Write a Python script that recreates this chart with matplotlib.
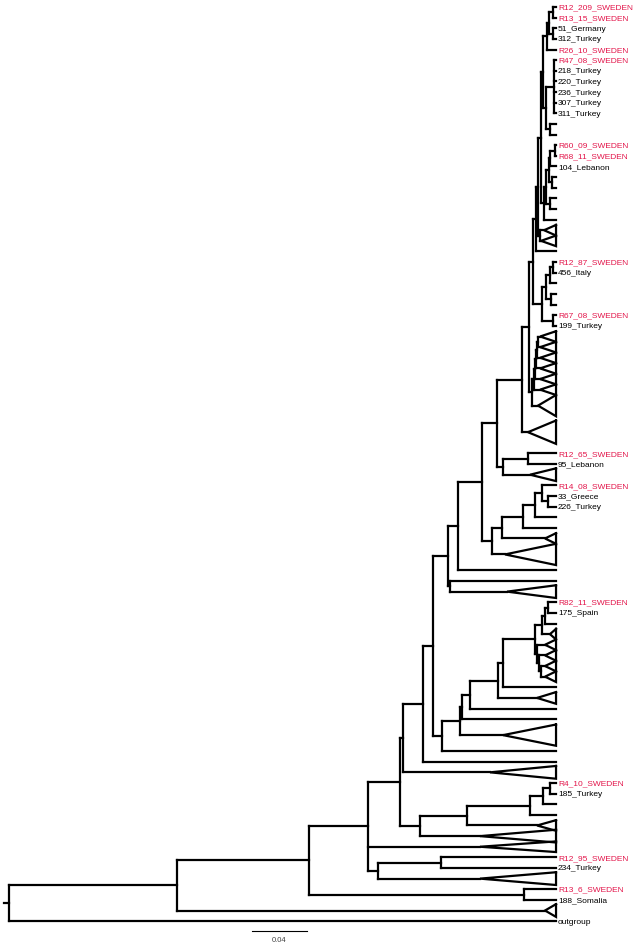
import matplotlib
matplotlib.use("Agg")
import matplotlib.pyplot as plt

plt.rcParams['font.family'] = ['Liberation Sans', 'DejaVu Sans']

# tip labels (row index -> name), rows without a name are unlabeled tips
label_rows = [0, 1, 2, 3, 4, 5, 6, 7, 8, 9, 10, 13, 14, 15, 24, 25, 29, 30,
              42, 43, 45, 46, 47, 56, 57, 73, 74, 80, 81, 83, 84, 86]
label_texts = ["R12_209_SWEDEN", "R13_15_SWEDEN", "51_Germany", "312_Turkey",
               "R26_10_SWEDEN", "R47_08_SWEDEN", "218_Turkey", "220_Turkey",
               "236_Turkey", "307_Turkey", "311_Turkey", "R60_09_SWEDEN",
               "R68_11_SWEDEN", "104_Lebanon", "R12_87_SWEDEN", "456_Italy",
               "R67_08_SWEDEN", "199_Turkey", "R12_65_SWEDEN", "95_Lebanon",
               "R14_08_SWEDEN", "33_Greece", "226_Turkey", "R82_11_SWEDEN",
               "175_Spain", "R4_10_SWEDEN", "185_Turkey", "R12_95_SWEDEN",
               "234_Turkey", "R13_6_SWEDEN", "188_Somalia", "outgroup"]

# collapsed clades: row (centre), height of the clade node, half height in rows
tri_rows = [21, 22, 31, 32, 33, 34, 35, 36, 37.5, 40, 44, 50, 51.5, 55, 59,
            60, 61, 62, 63, 65, 68.5, 72, 77, 78, 79, 82, 85]
tri_apex = [0.0087, 0.0109, 0.0116, 0.0116, 0.0116, 0.0116, 0.0116, 0.0116,
            0.0131, 0.0204, 0.0189, 0.0080, 0.0371, 0.0356, 0.0044, 0.0080,
            0.0080, 0.0080, 0.0080, 0.0138, 0.0385, 0.0480, 0.0138, 0.0553,
            0.0553, 0.0553, 0.0080]
tri_half = [0.5, 0.5, 0.5, 0.5, 0.5, 0.5, 0.5, 0.5, 1.0, 1.1, 0.6, 0.5, 1.0,
            0.6, 0.5, 0.5, 0.5, 0.5, 0.5, 0.55, 1.0, 0.6, 0.5, 0.6, 0.5, 0.6,
            0.6]

# topology: (node height, children...) ; ints/floats are tip rows
T1 = (0.0022, 0, 1)
T2 = (0.0022, 2, 3)
T3 = (0.0051, T1, T2)
T4 = (0.0065, T3, 4)
T5 = (0.0015, 5, 6, 7, 8, 9, 10)
T6 = (0.0044, 11, 12)
T7 = (0.0073, T5, T6)
T8 = (0.0095, T4, T7)
L1 = (0.0007, 13, 14)
L2 = (0.0044, L1, 15)
L3 = (0.0029, 16, 17)
L4 = (0.0051, L2, L3)
L5 = (0.0044, 18, 19)
L6 = (0.0073, L4, L5)
L7 = (0.0087, L6, 20)
L9 = (0.0109, T8, L7)
L8 = (0.0116, 21, 22)
L10 = (0.0131, L9, L8)
L11 = (0.0145, L10, 23)
M1 = (0.0022, 24, 25)
M2 = (0.0044, M1, 26)
M3 = (0.0036, 27, 28)
M4 = (0.0073, M2, M3)
M5 = (0.0022, 29, 30)
M6 = (0.0102, M4, M5)
upper = (0.0167, L11, M6)
J1 = (0.0131, 31, 32)
J2 = (0.0138, J1, 33)
J3 = (0.0145, J2, 34)
J4 = (0.0153, J3, 35)
J5 = (0.0160, J4, 36)
J6 = (0.0175, J5, 37.5)
U2 = (0.0196, upper, J6)
Kmid = (0.0247, U2, 40)
K1 = (0.0204, 42, 43)
K2 = (0.0385, K1, 44)
K3 = (0.0429, Kmid, K2)
G1 = (0.0058, 46, 47)
G2 = (0.0102, 45, G1)
G3 = (0.0153, G2, 48)
G4 = (0.0240, G3, 49)
G5 = (0.0393, G4, 50)
G6 = (0.0465, G5, 51.5)
K4 = (0.0538, K3, G6)
K5 = (0.0713, K4, 53)
X = (0.0771, 54, 55)
K6 = (0.0785, K5, X)
W1 = (0.0058, 56, 57)
W2 = (0.0080, W1, 58)
W3 = (0.0102, W2, 59)
WL3 = (0.0109, 62, 63)
WL2 = (0.0124, 61, WL3)
WL1 = (0.0138, 60, WL2)
W4 = (0.0153, W3, WL1)
W5 = (0.0385, W4, 64)
W6 = (0.0422, W5, 65)
W7 = (0.0625, W6, 66)
X1 = (0.0684, W7, 67)
X2 = (0.0698, X1, 68.5)
U = (0.0829, X2, 70)
S = (0.0895, K6, U)
R = (0.0967, S, 71)
Q = (0.1113, R, 72)
N1 = (0.0044, 73, 74)
N2 = (0.0095, N1, 75)
N3 = (0.0189, N2, 76)
N4 = (0.0647, N3, 77)
N5 = (0.0989, N4, 78)
P = (0.1135, Q, N5)
G = (0.0836, 80, 81)
F = (0.1295, G, 82)
C = (0.1367, P, 79, F)
D = (0.0233, 83, 84)
B = (0.1796, C, D)
A = (0.2756, B, 85)
root = (0.3978, A, 86)

scale_len = 0.04

fig = plt.figure(figsize=(6.34, 9.45), dpi=100)
ax = fig.add_axes([0, 0, 1, 1])
ax.set_xlim(-0.00655, 0.4545)
ax.set_ylim(88.15, -0.753)
ax.axis('off')

top = root[0]
lw = 1.6
kw = dict(color='black', lw=lw, solid_capstyle='projecting')


def draw(node):
    if isinstance(node, tuple):
        x = top - node[0]
        ys = []
        for ch in node[1:]:
            cy, cx = draw(ch)
            ax.plot([x, cx], [cy, cy], **kw)
            ys.append(cy)
        ax.plot([x, x], [min(ys), max(ys)], **kw)
        return (ys[0] + ys[-1]) / 2, x
    if node in tri_rows:
        i = tri_rows.index(node)
        ax_ = top - tri_apex[i]
        hh = tri_half[i]
        ax.plot([top, ax_, top, top], [node - hh, node, node + hh, node - hh],
                color='black', lw=lw, solid_joinstyle='miter')
        return node, ax_
    return node, top


ry, rx = draw(root)
ax.plot([-0.0036, rx], [ry, ry], **kw)

for r, t in zip(label_rows, label_texts):
    col = '#e3164b' if 'SWEDEN' in t else 'black'
    ax.text(top + 0.0015, r, t, va='center', ha='left', fontsize=6.0, color=col)

# scale bar
sx = 0.1767
ax.plot([sx, sx + scale_len], [86.9, 86.9], color='black', lw=0.8)
ax.text(sx + scale_len / 2, 87.75, "0.04", ha='center', va='center',
        fontsize=5.5, color='#444444')

fig.savefig("out.png", dpi=100)
